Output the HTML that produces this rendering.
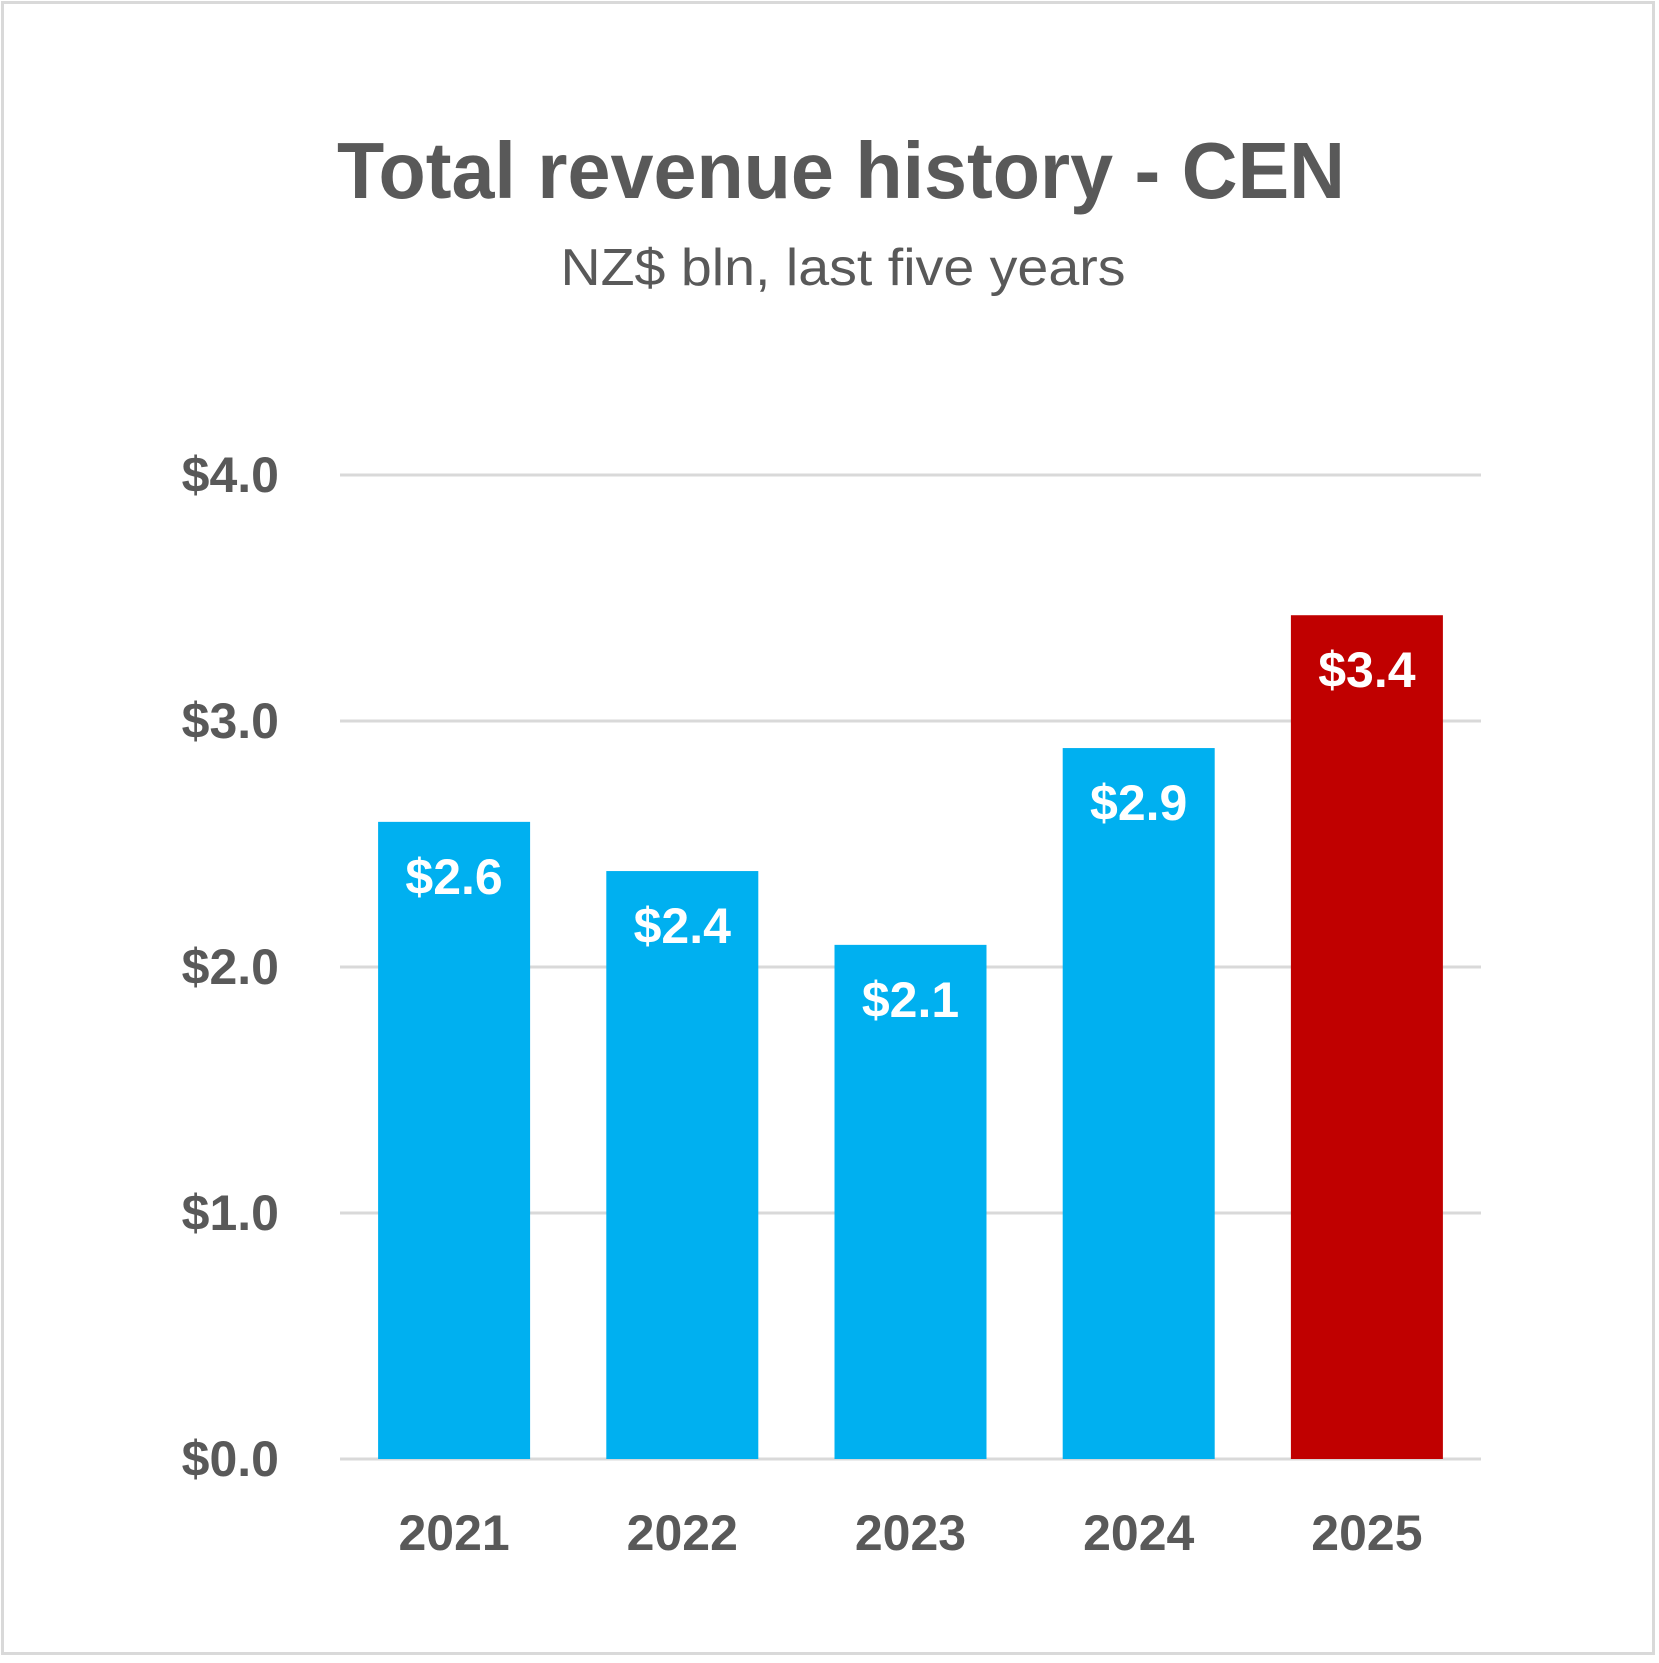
<!DOCTYPE html>
<html><head><meta charset="utf-8"><style>
html,body{margin:0;padding:0;background:#fff}
svg{display:block;font-family:"Liberation Sans",sans-serif}
</style></head><body>
<svg id="chart" width="1659" height="1663" viewBox="0 0 1659 1663" xmlns="http://www.w3.org/2000/svg">
<rect x="2.5" y="2.5" width="1651" height="1651" fill="#fff" stroke="#d9d9d9" stroke-width="3"/>
<text x="841" y="198" text-anchor="middle" font-size="80" font-weight="bold" fill="#595959" textLength="1008" lengthAdjust="spacingAndGlyphs">Total revenue history - CEN</text>
<text x="843" y="285" text-anchor="middle" font-size="52" fill="#595959" textLength="565" lengthAdjust="spacingAndGlyphs">NZ$ bln, last five years</text>
<g id="grid"></g><g id="bars"></g><g id="labels"></g>
</svg>
<script>
const categories = ["2021","2022","2023","2024","2025"];
const values = [2.59, 2.39, 2.09, 2.89, 3.43];
const valueLabels = ["$2.6","$2.4","$2.1","$2.9","$3.4"];
const ticks = [0,1,2,3,4];
const tickLabels = ["$0.0","$1.0","$2.0","$3.0","$4.0"];
const highlight = [false,false,false,false,true];

const NS="http://www.w3.org/2000/svg";
const left=340,right=1481,y0=1459,yTop=475,maxV=4;
const y=v=>y0-(v/maxV)*(y0-yTop);
const band=(right-left)/categories.length, bw=152;
const x=i=>left+band*i+band/2;
function mk(t,a,p){const e=document.createElementNS(NS,t);for(const k in a)e.setAttribute(k,a[k]);p.appendChild(e);return e;}
const grid=document.getElementById('grid'),bars=document.getElementById('bars'),labels=document.getElementById('labels');
ticks.forEach((t,i)=>{
  const l=mk('line',{x1:left,x2:right,y1:y(t),y2:y(t),stroke:'#d9d9d9','stroke-width':3},grid);
  
  
  const tx=mk('text',{x:279,y:y(t)+17,'text-anchor':'end','font-size':50,'font-weight':'bold',fill:'#595959'},labels);
  tx.textContent=tickLabels[i];
  
  
});
categories.forEach((c,i)=>{
  const r=mk('rect',{x:x(i)-bw/2,y:y(values[i]),width:bw,height:y0-y(values[i]),fill:highlight[i]?'#c00000':'#00b0f0'},bars);
  
  
  const v=mk('text',{x:x(i),y:y(values[i])+72,'text-anchor':'middle','font-size':50,'font-weight':'bold',fill:'#fff'},labels);
  v.textContent=valueLabels[i];
  
  
  const xl=mk('text',{x:x(i),y:1550,'text-anchor':'middle','font-size':50,'font-weight':'bold',fill:'#595959'},labels);
  xl.textContent=c;
  
  
});
</script>
</body></html>
